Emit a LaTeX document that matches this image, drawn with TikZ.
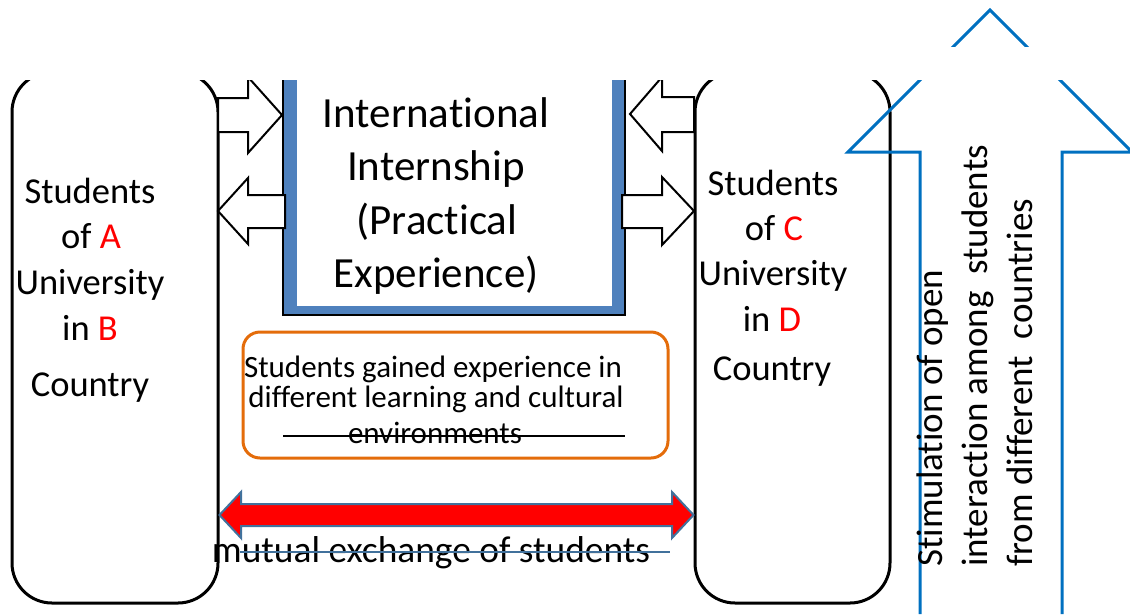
\documentclass[tikz,border=0pt]{standalone}
\usepackage{fontspec}
\setmainfont{Carlito}[Ligatures=NoCommon]
\definecolor{frameblue}{HTML}{4F81BD}
\definecolor{arrowblue}{HTML}{0070C0}
\definecolor{boxorange}{HTML}{E46C0A}
\definecolor{redline}{HTML}{41719C}
\tikzset{
  sbox/.style={draw=black, line width=3pt, rounded corners=40pt, fill=white, inner sep=0pt},
  blockarrow/.style={draw=black, line width=2pt, fill=white, line join=miter},
  ctext/.style={anchor=base, inner sep=0pt, font=\fontsize{43}{52}\selectfont},
  stext/.style={anchor=base, inner sep=0pt, font=\fontsize{36.5}{44}\selectfont},
  otext/.style={anchor=base, inner sep=0pt, font=\fontsize{31}{36}\selectfont},
  mtext/.style={anchor=base, inner sep=0pt, font=\fontsize{37.4}{44}\selectfont},
  vtext/.style={anchor=base west, inner sep=0pt, rotate=90, font=\fontsize{37}{45}\selectfont},
}
\begin{document}
\begin{tikzpicture}[x=1pt,y=-1pt]
\useasboundingbox (0,0) rectangle (1130,614);
\begin{scope}
  \clip (0,80) rectangle (1130,614);
  % centre frame
  \fill[frameblue] (283,40) rectangle (625,315);
  \draw[black, line width=2pt] (283,40) rectangle (625,315);
  \fill[white] (297,40) rectangle (612,306);
  \coordinate (frame) at (454,178);
  % side boxes
  \node[sbox, minimum width=206pt, minimum height=531pt] (boxA) at (115,337.5) {};
  \node[sbox, minimum width=195pt, minimum height=531pt] (boxC) at (792.5,337.5) {};
  % block arrows
  \draw[blockarrow] (218,98) -- (248,98) -- (248,77) -- (282,115) -- (248,153) -- (248,132) -- (218,132) -- cycle;
  \draw[blockarrow] (285,195) -- (248,195) -- (248,178) -- (218,211) -- (248,244) -- (248,228) -- (285,228) -- cycle;
  \draw[blockarrow] (694,97) -- (662,97) -- (662,77) -- (630,114) -- (662,151) -- (662,132) -- (694,132) -- cycle;
  \draw[blockarrow] (622,195) -- (662,195) -- (662,177) -- (694,211) -- (662,245) -- (662,228) -- (622,228) -- cycle;
\end{scope}
% centre text
\node[ctext] (t1) at (436,127) {International};
\node[ctext] (t2) at (436,180) {Internship};
\node[ctext] (t3) at (437,234) {(Practical};
\node[ctext] (t4) at (436,287) {Experience)};
% left text
\node[stext] (a1) at (90,203) {Students};
\node[stext] (a2) at (91,248) {of \textcolor{red}{A}};
\node[stext] (a3) at (90,294) {University};
\node[stext] (a4) at (90,340) {in \textcolor{red}{B}};
\node[stext] (a5) at (90,396) {Country};
% right text
\node[stext] (c1) at (773,195) {Students};
\node[stext] (c2) at (774,240) {of \textcolor{red}{C}};
\node[stext] (c3) at (773,285) {University};
\node[stext] (c4) at (772,331) {in \textcolor{red}{D}};
\node[stext] (c5) at (772,380) {Country};
% orange box
\node[draw=boxorange, line width=3pt, rounded corners=17pt, minimum width=425pt, minimum height=126pt, inner sep=0pt] (exp) at (455.5,395) {};
\node[otext] (e1) at (433,377) {Students gained experience in};
\node[otext] (e2) at (436,407) {different learning and cultural};
\node[otext] (e3) at (435,443) {environments};
\draw[black, line width=1.5pt] (283,436) coordinate (el) -- (625,436) coordinate (er);
% red double arrow
\draw[fill=red, draw=redline, line width=2pt, line join=miter]
  (boxA.east |- 0,515) -- (241,492) -- (241,504) -- (672,504) -- (672,492) -- (boxC.west |- 0,515) -- (672,538) -- (672,526) -- (241,526) -- (241,538) -- cycle;
\node[mtext] (m) at (431,562) {mutual exchange of students};
\draw[redline, line width=1.3pt] (240,552) coordinate (ml) -- (670,552) coordinate (mr);
% big blue arrow
\draw[arrowblue, line width=3pt, line join=miter] (920,614) -- (920,152) -- (848,152) -- (990,10) -- (1132,152) -- (1062,152) -- (1062,614);
\fill[white] (840,47) rectangle (1135,80);
\node[vtext] (v1) at (942,567) {Stimulation of open};
\node[vtext] (v2) at (987,567) {interaction among~ students};
\node[vtext] (v3) at (1032,567) {from different~ countries};
\end{tikzpicture}
\end{document}
